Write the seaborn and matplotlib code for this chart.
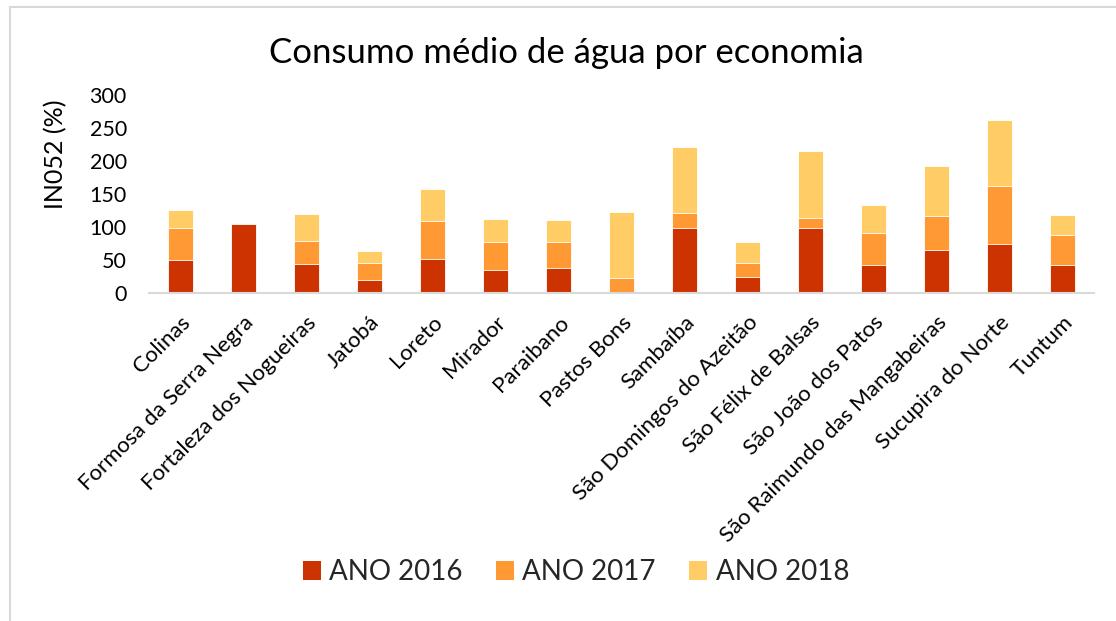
import matplotlib
matplotlib.use("Agg")
import matplotlib.pyplot as plt
import seaborn as sns
import pandas as pd
from matplotlib.patches import Patch, Rectangle

categories = ["Colinas", "Formosa da Serra Negra", "Fortaleza dos Nogueiras", "Jatobá",
              "Loreto", "Mirador", "Paraibano", "Pastos Bons", "Sambaíba",
              "São Domingos do Azeitão", "São Félix de Balsas", "São João dos Patos",
              "São Raimundo das Mangabeiras", "Sucupira do Norte", "Tuntum"]
ano_2016 = [50, 104, 43.5, 19, 51.5, 35, 38, 0, 99, 25, 99, 43, 65.5, 75, 43]
ano_2017 = [49, 0, 35, 26, 57.5, 42, 39, 22, 22, 21, 15, 48.5, 51.5, 87, 44.5]
ano_2018 = [27, 0, 41, 19, 48, 35, 33, 100, 100.5, 31, 101, 41.5, 76, 100.5, 30.5]
series_names = ["ANO 2016", "ANO 2017", "ANO 2018"]
colors = ["#CC3300", "#FF9933", "#FFCC66"]
yticks = [0, 50, 100, 150, 200, 250, 300]

sns.set_theme(style="white")
plt.rcParams['font.family'] = ['Lato', 'DejaVu Sans']

df = pd.DataFrame({"cat": categories, "a": ano_2016, "b": ano_2017, "c": ano_2018})
df["cum2017"] = df["a"] + df["b"]
df["cum2018"] = df["cum2017"] + df["c"]

fig = plt.figure(figsize=(11.16, 6.21), dpi=100)
ax = fig.add_axes([149/1116, 1 - 293/621, (1094-149)/1116, (293-95)/621])

sns.barplot(data=df, x="cat", y="cum2018", color=colors[2], width=0.4, ax=ax,
            saturation=1, edgecolor="white", linewidth=0.6)
sns.barplot(data=df, x="cat", y="cum2017", color=colors[1], width=0.4, ax=ax,
            saturation=1, edgecolor="white", linewidth=0.6)
sns.barplot(data=df, x="cat", y="a", color=colors[0], width=0.4, ax=ax,
            saturation=1, edgecolor="white", linewidth=0.6)

ax.set_ylim(0, 300)
ax.set_xlim(-0.5, len(categories) - 0.5)
ax.set_yticks(yticks)
ax.set_yticklabels([str(t) for t in yticks], fontsize=15.5, color="#000000")
ax.tick_params(axis="y", length=0, pad=16)
ax.tick_params(axis="x", length=0, pad=14)
ax.set_xticks(range(len(categories)))
ax.set_xticklabels(categories, rotation=45, ha="right", rotation_mode="anchor",
                   fontsize=16, color="#000000")
ax.set_xlabel("")
ax.set_ylabel("IN052 (%)", fontsize=18, color="#000000")
ax.yaxis.set_label_coords(-0.086, 0.70)

for s in ["top", "right", "left"]:
    ax.spines[s].set_visible(False)
ax.spines["bottom"].set_color("#D9D9D9")
ax.spines["bottom"].set_linewidth(1.5)
ax.grid(False)

fig.text(566/1116, 1 - 53/621, "Consumo médio de água por economia", ha="center", va="center",
         fontsize=25, color="#000000")

handles = [Patch(facecolor=c, edgecolor="none") for c in colors]
fig.legend(handles, series_names, loc="center", bbox_to_anchor=(576/1116, 1 - 572/621),
           ncol=3, frameon=False, fontsize=20, handlelength=0.65, handleheight=0.65,
           handletextpad=0.3, columnspacing=1.2)

fig.patches.append(Rectangle((10/1116, -0.2), 2, 1.2 - 7/621, transform=fig.transFigure,
                             fill=False, edgecolor="#D9D9D9", linewidth=1.5))

fig.savefig("out.png", dpi=100)
